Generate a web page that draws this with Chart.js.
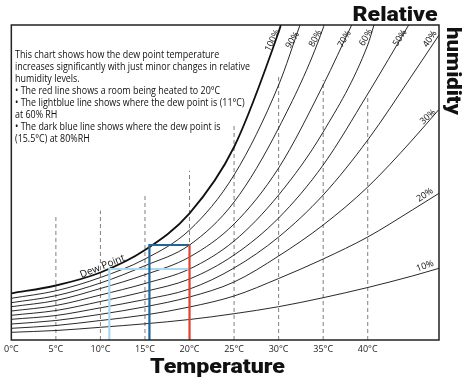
<!DOCTYPE html>
<html><head><meta charset="utf-8">
<script src="https://cdn.jsdelivr.net/npm/chart.js@4.4.1/dist/chart.umd.min.js"></script>
<style>html,body{margin:0;padding:0;background:#fff;}#wrap{width:464px;height:381px;position:relative;}</style>
</head><body><div id="wrap"><canvas id="c" width="464" height="381"></canvas></div>
<script>
// Temperature columns (°C) at which each relative-humidity curve was read
const temps = [0, 5, 10, 15, 20, 25, 30, 35, 40, 45, 48];
// Curve heights (chart units, 0 = bottom of plot, 315 = top), null = off the top
const rh10  = [7.7, 9.5, 12.7, 16.2, 20.5, 26.3, 33.3, 42.3, 52.5, 64, 71.7];
const rh20  = [11.7, 14.5, 19.5, 25, 33, 44, 61.5, 81, 103, 130, 146.7];
const rh30  = [16, 19.5, 25.7, 33.2, 43, 58, 84, 115, 153, 200, 230.7];
const rh40  = [20.7, 24.5, 32.2, 40.5, 51, 72, 103, 145, 200, 265, 305];
const rh50  = [24.7, 29.5, 38.5, 48.5, 61, 85, 122, 175, 246, null, null];
const rh60  = [29, 34.5, 45, 56.5, 71, 99, 145, 208, 295, null, null];
const rh70  = [33.3, 39.5, 51.5, 65.3, 83, 116, 172, 255, null, null, null];
const rh80  = [37.3, 44.3, 57, 74.3, 95, 138, 212, 312, null, null, null];
const rh90  = [41.7, 49.2, 62.5, 81, 110, 165, 255, null, null, null, null];
const rh100 = [46.7, 54.5, 67.5, 90, 126.7, 193, 308, null, null, null, null];
const rhSeries = [rh10, rh20, rh30, rh40, rh50, rh60, rh70, rh80, rh90, rh100];
const rhLabels = ['10%', '20%', '30%', '40%', '50%', '60%', '70%', '80%', '90%', '100%'];
// temperature where each curve leaves the top of the chart
const topTemps = [null, null, null, null, 44.6, 40.7, 38.2, 35.1, 32.4, 30.25];
const yTop = 315;
// dashed reference lines
const gridTemps = [5, 10, 15, 20, 25, 30, 35, 40];
const gridTops = [123.3, 129.3, 146.7, 169.3, 216.7, 265, 260, 242.3];
// axis ticks
const tickTemps = [0, 5, 10, 15, 20, 25, 30, 35, 40];
const tickLabels = ['0°C', '5°C', '10°C', '15°C', '20°C', '25°C', '30°C', '35°C', '40°C'];
// example lines
const redX = [20, 20], redY = [0, 95];
const darkBlueX = [15.5, 15.5, 20], darkBlueY = [0, 95, 95];
const lightBlueX = [11, 11, 20], lightBlueY = [0, 71, 71];

const noteLines = [
  'This chart shows how the dew point temperature',
  'increases significantly with just minor changes in relative',
  'humidity levels.',
  '\u2022 The red line shows a room being heated to 20\u00b0C',
  '\u2022 The lightblue line shows where the dew point is (11\u00b0C)',
  'at 60% RH',
  '\u2022 The dark blue line shows where the dew point is',
  '(15.5\u00b0C) at 80%RH'
];

const pts = (xs, ys) => xs.map((x, i) => ({x: x, y: ys[i]}));
const datasets = [];
datasets.push({data: pts(redX, redY), borderColor: '#e2412e', borderWidth: 2.2});
datasets.push({data: pts(darkBlueX, darkBlueY), borderColor: '#1f6796', borderWidth: 2.2});
datasets.push({data: pts(lightBlueX, lightBlueY), borderColor: '#a9d9f0', borderWidth: 2.2});
rhSeries.forEach((vals, k) => {
  const d = [];
  temps.forEach((t, i) => { if (vals[i] !== null) d.push({x: t, y: vals[i]}); });
  if (topTemps[k] !== null) d.push({x: topTemps[k], y: yTop});
  datasets.push({data: d, borderColor: '#111', borderWidth: k === 9 ? 1.8 : 0.9,
    cubicInterpolationMode: 'monotone'});
});
gridTemps.forEach((t, i) => {
  datasets.push({data: [{x: t, y: 0}, {x: t, y: gridTops[i]}], borderColor: '#7f7f7f',
    borderWidth: 1, borderDash: [4, 3]});
});

const FONT_TXT = "'Liberation Sans Narrow', 'Open Sans', 'DejaVu Sans', sans-serif";
const FONT_HEAVY = "Roboto, 'DejaVu Sans', sans-serif";

function fitText(ctx, text, x, y, width) {
  const w = ctx.measureText(text).width;
  ctx.save(); ctx.translate(x, y); ctx.scale(width / w, 1); ctx.fillText(text, 0, 0); ctx.restore();
}
function rotText(ctx, text, x, y, deg) {
  ctx.save(); ctx.translate(x, y); ctx.rotate(deg * Math.PI / 180); ctx.fillText(text, 0, 0); ctx.restore();
}

const deco = {
  id: 'deco',
  afterDraw(chart) {
    const ctx = chart.ctx, a = chart.chartArea;
    ctx.save();
    ctx.strokeStyle = '#222'; ctx.lineWidth = 1.5;
    ctx.strokeRect(a.left, a.top, a.right - a.left, a.bottom - a.top);
    ctx.fillStyle = '#111';
    // notes
    ctx.font = '11px ' + FONT_TXT; ctx.textAlign = 'left'; ctx.textBaseline = 'alphabetic';
    const f = 235 / ctx.measureText(noteLines[1]).width;
    noteLines.forEach((s, i) => {
      ctx.save(); ctx.translate(15, 57.5 + 12 * i); ctx.scale(f, 1); ctx.fillText(s, 0, 0); ctx.restore();
    });
    // curve labels
    ctx.font = '9px ' + FONT_TXT; ctx.textAlign = 'center'; ctx.textBaseline = 'middle';
    const lab = [[425, 266, -20], [425, 195, -34], [428, 117, -41], [430, 39, -57], [400, 38, -57],
                 [366, 37.5, -60], [344.5, 39, -60], [315.5, 38.5, -62], [292.5, 40, -58], [272.5, 40.5, -64]];
    lab.forEach((p, i) => rotText(ctx, rhLabels[i], p[0], p[1], p[2]));
    ctx.font = '10px ' + FONT_TXT;
    rotText(ctx, 'Dew Point', 102.5, 266.5, -22);
    // titles
    ctx.font = '900 21px ' + FONT_HEAVY; ctx.textAlign = 'left'; ctx.textBaseline = 'alphabetic';
    fitText(ctx, 'Relative', 352.5, 20.5, 85);
    fitText(ctx, 'Temperature', 150, 373, 135);
    ctx.save(); ctx.translate(447, 27); ctx.rotate(Math.PI / 2);
    fitText(ctx, 'humidity', 0, 0, 88);
    ctx.restore();
    ctx.restore();
  }
};

new Chart(document.getElementById('c'), {
  type: 'line',
  data: {datasets: datasets},
  plugins: [deco],
  options: {
    responsive: false, animation: false, events: [],
    layout: {padding: {left: 6, right: 25, top: 25, bottom: 0}},
    elements: {point: {radius: 0}, line: {fill: false, tension: 0}},
    plugins: {legend: {display: false}, tooltip: {enabled: false}},
    scales: {
      x: {type: 'linear', min: 0, max: 48,
        afterFit: s => { s.height = 41; },
        afterBuildTicks: s => { s.ticks = tickTemps.map(v => ({value: v})); },
        grid: {display: false, drawTicks: false}, border: {display: false},
        ticks: {padding: 4, maxRotation: 0, autoSkip: false, color: '#222',
          font: {size: 9, family: FONT_TXT},
          callback: v => { const i = tickTemps.indexOf(v); return i >= 0 ? tickLabels[i] : ''; }}},
      y: {type: 'linear', min: 0, max: yTop, display: false}
    }
  }
});
</script></body></html>
